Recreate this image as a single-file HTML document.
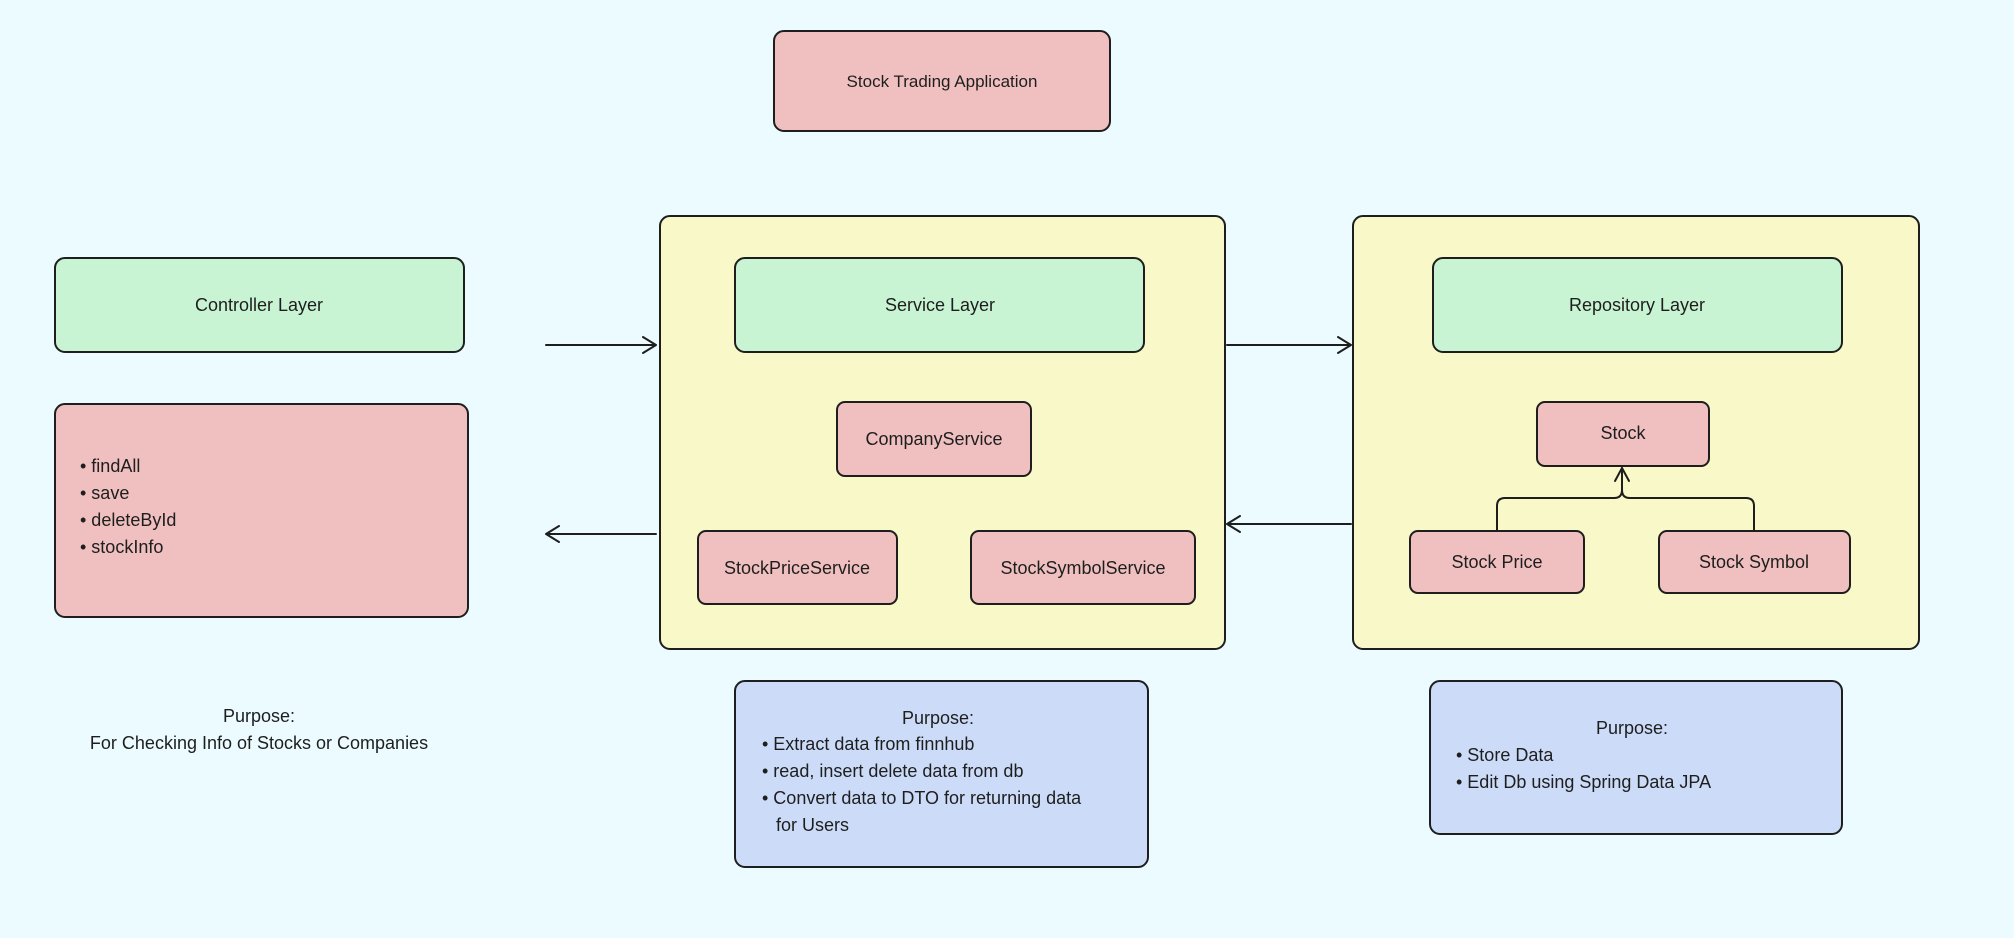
<!DOCTYPE html>
<html><head><meta charset="utf-8"><style>
html,body{margin:0;padding:0;background:#ebfbff;}
svg{display:block}
text{font-family:"Liberation Sans",sans-serif;fill:#1e1e1e}
</style></head><body>
<svg width="2014" height="938" viewBox="0 0 2014 938">
<rect width="2014" height="938" fill="#ebfbff"/>
<g stroke="#1e1e1e" stroke-width="2">
<rect x="774" y="31" width="336" height="100" rx="10" fill="#f0c0c0"/>
<rect x="55" y="258" width="409" height="94" rx="10" fill="#c8f4d4"/>
<rect x="55" y="404" width="413" height="213" rx="10" fill="#f0c0c0"/>
<rect x="660" y="216" width="565" height="433" rx="10" fill="#f8f8c8"/>
<rect x="735" y="258" width="409" height="94" rx="10" fill="#c8f4d4"/>
<rect x="837" y="402" width="194" height="74" rx="8" fill="#f0c0c0"/>
<rect x="698" y="531" width="199" height="73" rx="8" fill="#f0c0c0"/>
<rect x="971" y="531" width="224" height="73" rx="8" fill="#f0c0c0"/>
<rect x="735" y="681" width="413" height="186" rx="10" fill="#ccdcf8"/>
<rect x="1353" y="216" width="566" height="433" rx="10" fill="#f8f8c8"/>
<rect x="1433" y="258" width="409" height="94" rx="10" fill="#c8f4d4"/>
<rect x="1537" y="402" width="172" height="64" rx="8" fill="#f0c0c0"/>
<rect x="1410" y="531" width="174" height="62" rx="8" fill="#f0c0c0"/>
<rect x="1659" y="531" width="191" height="62" rx="8" fill="#f0c0c0"/>
<rect x="1430" y="681" width="412" height="153" rx="10" fill="#ccdcf8"/>
</g>
<g stroke="#1e1e1e" stroke-width="2" fill="none" stroke-linecap="round" stroke-linejoin="round">
<path d="M546 345 L656 345 M643 337 L656 345 L643 353"/>
<path d="M656 534 L546 534 M559 526 L546 534 L559 542"/>
<path d="M1227 345 L1351 345 M1338 337 L1351 345 L1338 353"/>
<path d="M1351 524 L1227 524 M1240 516 L1227 524 L1240 532"/>
<path d="M1497 530 L1497 506 Q1497 498 1505 498 L1614 498 Q1622 498 1622 490 L1622 468 M1622 490 Q1622 498 1630 498 L1746 498 Q1754 498 1754 506 L1754 530"/>
<path d="M1615 481 L1622 468 L1629 481"/>
</g>
<g font-size="18" text-anchor="middle">
<text x="942" y="87" font-size="17">Stock Trading Application</text>
<text x="259" y="311">Controller Layer</text>
<text x="940" y="311">Service Layer</text>
<text x="1637" y="311">Repository Layer</text>
<text x="934" y="445">CompanyService</text>
<text x="797" y="574">StockPriceService</text>
<text x="1083" y="574">StockSymbolService</text>
<text x="1623" y="439">Stock</text>
<text x="1497" y="568">Stock Price</text>
<text x="1754" y="568">Stock Symbol</text>
<text x="259" y="722">Purpose:</text>
<text x="259" y="749">For Checking Info of Stocks or Companies</text>
<text x="938" y="724">Purpose:</text>
<text x="1632" y="734">Purpose:</text>
</g>
<g font-size="18">
<text x="80" y="472">• findAll</text>
<text x="80" y="499">• save</text>
<text x="80" y="526">• deleteById</text>
<text x="80" y="553">• stockInfo</text>
<text x="762" y="750">• Extract data from finnhub</text>
<text x="762" y="777">• read, insert delete data from db</text>
<text x="762" y="804">• Convert data to DTO for returning data</text>
<text x="776" y="831">for Users</text>
<text x="1456" y="761">• Store Data</text>
<text x="1456" y="788">• Edit Db using Spring Data JPA</text>
</g>
</svg>
</body></html>
